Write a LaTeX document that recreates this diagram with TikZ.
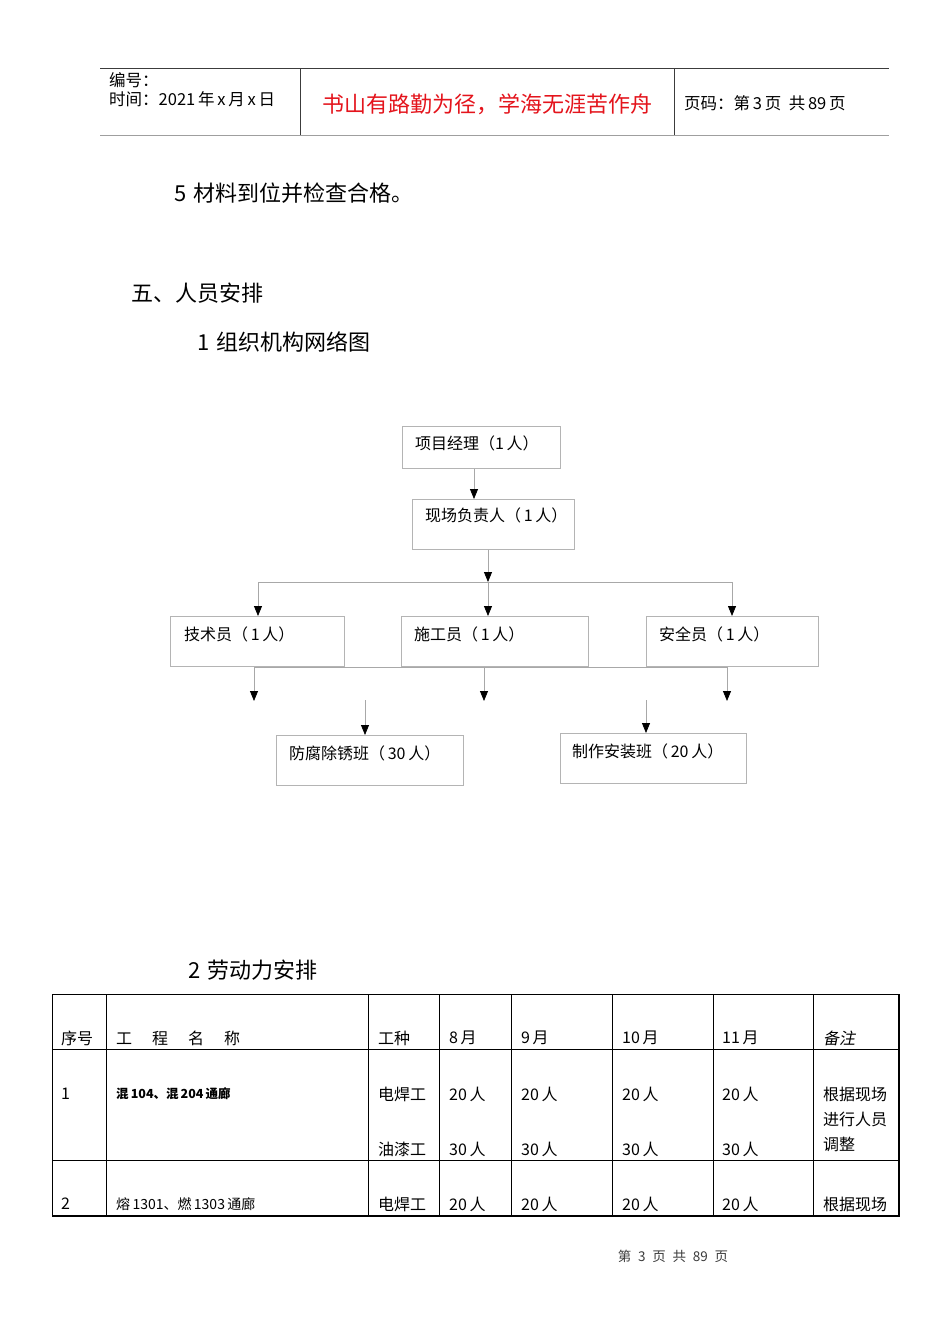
\documentclass[tikz,border=0pt]{standalone}
\usepackage{fontspec}
\setmainfont{Noto Sans CJK SC}
\usetikzlibrary{arrows.meta,calc}
\definecolor{ln}{HTML}{A8A8A8}
\definecolor{bx}{HTML}{B4B4B4}
\definecolor{tl}{HTML}{3C3C3C}
\definecolor{redt}{HTML}{E4141C}
\begin{document}
\begin{tikzpicture}[x=1pt,y=-1pt,
  box/.style={draw=bx, line width=0.8pt, anchor=north west, inner sep=0pt},
  btxt/.style={anchor=west, inner sep=0pt, font=\fontsize{16}{16}\selectfont},
  conn/.style={draw=ln, line width=0.8pt},
  arr/.style={conn, -{Triangle[width=8pt,length=10pt,color=black]}},
  hd/.style={anchor=west, inner sep=0pt, font=\fontsize{16.5}{16.5}\selectfont},
  body/.style={anchor=west, inner sep=0pt, font=\fontsize{22}{22}\selectfont},
  tt/.style={anchor=west, inner sep=0pt, font=\fontsize{16}{16}\selectfont},
  tbl/.style={draw=black, line width=0.8pt},
]
\useasboundingbox (0,0) rectangle (950,1344);
\fill[white] (0,0) rectangle (950,1344);

% ---- page header ----
\draw[tl, line width=0.8pt] (100,68.5) -- (889,68.5);
\draw[gray!75, line width=1.8pt] (100,135.5) -- (889,135.5);
\draw[tl, line width=0.8pt] (300.5,68.5) -- (300.5,135);
\draw[tl, line width=0.8pt] (674.5,68.5) -- (674.5,135);
\node[hd] (hno) at (109,80) {编号：};
\node[hd] (htime) at (109,99) {时间：2021\,年\,x\,月\,x\,日};
\node[inner sep=0pt, text=redt, font=\fontsize{22}{22}\selectfont] (htitle) at (487,104) {书山有路勤为径，学海无涯苦作舟};
\node[hd] (hpage) at (684,103) {页码：第\,3\,页\ \ 共\,89\,页};

% ---- body text ----
\node[body] (p5) at (174,193) {5\,\,材料到位并检查合格。};
\node[body] (s5) at (131,293) {五、人员安排};
\node[body] (s51) at (197,342) {1\,\,组织机构网络图};
\node[body] (s52) at (188,970) {2\,\,劳动力安排};

% ---- org chart boxes ----
\node[box, minimum width=158pt, minimum height=42pt] (pm) at (402,426) {};
\node[btxt] (pmt) at ($(pm.north west)+(13,17)$) {项目经理（1\,人）};
\node[box, minimum width=162pt, minimum height=50pt] (fz) at (412,499) {};
\node[btxt] (fzt) at ($(fz.north west)+(13,16)$) {现场负责人（\,1\,人）};
\node[box, minimum width=174pt, minimum height=50pt] (js) at (170,616) {};
\node[btxt] (jst) at ($(js.north west)+(14,18)$) {技术员（\,1\,人）};
\node[box, minimum width=187pt, minimum height=50pt] (sg) at (401,616) {};
\node[btxt] (sgt) at ($(sg.north west)+(13,18)$) {施工员（\,1\,人）};
\node[box, minimum width=172pt, minimum height=50pt] (aq) at (646,616) {};
\node[btxt] (aqt) at ($(aq.north west)+(13,18)$) {安全员（\,1\,人）};
\node[box, minimum width=187pt, minimum height=50pt] (ff) at (276,735) {};
\node[btxt] (fft) at ($(ff.north west)+(13,18)$) {防腐除锈班（\,30\,人）};
\node[box, minimum width=186pt, minimum height=50pt] (zz) at (560,733) {};
\node[btxt] (zzt) at ($(zz.north west)+(12,18)$) {制作安装班（\,20\,人）};

% ---- connectors ----
\draw[arr] ($(pm.south west)+(72,0)$) -- ($(fz.north west)+(62,0)$);
\coordinate (busL) at (258,582);
\coordinate (busC) at (488,582);
\coordinate (busR) at (732,582);
\draw[conn] (busL) -- (busR);
\draw[arr] ($(fz.south west)+(76,0)$) -- (busC);
\draw[arr] (busL) -- (busL |- js.north);
\draw[arr] (busC) -- (busC |- sg.north);
\draw[arr] (busR) -- (busR |- aq.north);

\coordinate (lowL) at (254,667);
\coordinate (lowC) at (484,667);
\coordinate (lowR) at (727,667);
\coordinate (dL) at (254,701);
\coordinate (dC) at (484,701);
\coordinate (dR) at (727,701);
\draw[conn] (lowL) -- (lowR);
\draw[arr] (lowL) -- (dL);
\draw[arr] (lowC) -- (dC);
\draw[arr] (lowR) -- (dR);
\coordinate (u1) at (365,700);
\coordinate (u2) at (646,700);
\draw[arr] (u1) -- (u1 |- ff.north);
\draw[arr] (u2) -- (u2 |- zz.north);

% ---- table ----
\draw[tbl, line width=1.4pt] (52.5,994.5) rectangle (899,1216);
\foreach \cx in {106.5,368.5,439.5,511.5,612.5,713.5,813.5}
  \draw[tbl] (\cx,994.5) -- (\cx,1216);
\draw[tbl] (52.5,1049.5) -- (899,1049.5);
\draw[tbl] (52.5,1160.5) -- (899,1160.5);

\node[tt] (c1) at (61,1038) {序号};
\node[tt] (c2) at (116,1038) {工\hspace{1.25em}程\hspace{1.25em}名\hspace{1.25em}称};
\node[tt] (c3) at (378,1038) {工种};
\node[tt] (c4) at (449,1038) {8\,月};
\node[tt] (c5) at (521,1038) {9\,月};
\node[tt] (c6) at (622,1038) {10\,月};
\node[tt] (c7) at (722,1038) {11\,月};
\node[tt, font=\fontsize{16}{16}\selectfont\addfontfeature{FakeSlant=0.2}] (c8) at (823,1038) {备注};

\node[tt] (r1a) at (61,1094) {1};
\node[tt, font=\fontsize{12.5}{12.5}\selectfont\bfseries] (r1b) at (116,1094) {混\,104、混\,204\,通廊};
\node[tt] (r1c) at (378,1094) {电焊工};
\node[tt] (r1d) at (378,1149) {油漆工};
\foreach \cx [count=\i] in {449,521,622,722} {
  \node[tt] (r1e\i) at (\cx,1094) {20\,人};
  \node[tt] (r1f\i) at (\cx,1149) {30\,人};
}
\node[tt] (r1g) at (823,1094) {根据现场};
\node[tt] (r1h) at (823,1119) {进行人员};
\node[tt] (r1i) at (823,1144) {调整};

\node[tt] (r2a) at (61,1204) {2};
\node[tt, font=\fontsize{14}{14}\selectfont] (r2b) at (116,1204) {熔\,1301、燃\,1303\,通廊};
\node[tt] (r2c) at (378,1204) {电焊工};
\foreach \cx [count=\i] in {449,521,622,722}
  \node[tt] (r2e\i) at (\cx,1204) {20\,人};
\node[tt] (r2g) at (823,1204) {根据现场};

% ---- footer ----
\node[inner sep=0pt, font=\fontsize{13.5}{13.5}\selectfont, text=tl] (foot) at (673,1256) {第\enspace 3\enspace 页\enspace 共\enspace 89\enspace 页};
\end{tikzpicture}
\end{document}
